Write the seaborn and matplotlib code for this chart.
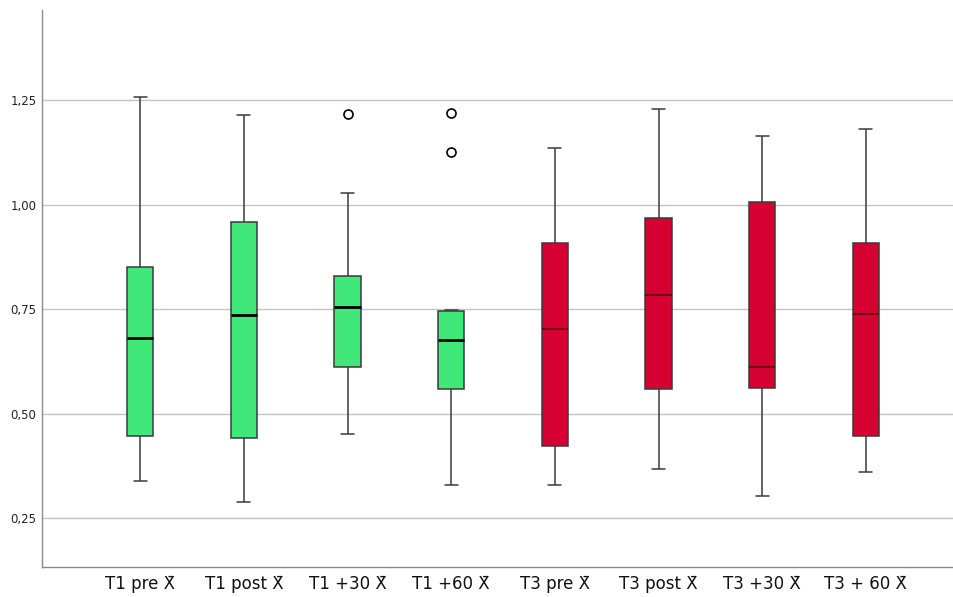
import numpy as np
import pandas as pd
import matplotlib
matplotlib.use("Agg")
import matplotlib.pyplot as plt
import seaborn as sns

# Measurement occasions (mean values, X̄)
labels = ["T1 pre X\u0304", "T1 post X\u0304", "T1 +30 X\u0304", "T1 +60 X\u0304",
          "T3 pre X\u0304", "T3 post X\u0304", "T3 +30 X\u0304", "T3 + 60 X\u0304"]

# Five-number summaries per occasion
whisker_low = [0.340, 0.290, 0.452, 0.331, 0.329, 0.367, 0.303, 0.362]
q1          = [0.446, 0.443, 0.611, 0.560, 0.423, 0.559, 0.562, 0.446]
median      = [0.682, 0.737, 0.756, 0.676, 0.703, 0.785, 0.613, 0.739]
q3          = [0.852, 0.959, 0.829, 0.745, 0.909, 0.968, 1.007, 0.909]
whisker_high = [1.257, 1.214, 1.029, 0.748, 1.135, 1.229, 1.163, 1.182]

# Outlying values
outlier_group = ["T1 +30 X\u0304", "T1 +60 X\u0304", "T1 +60 X\u0304"]
outlier_value = [1.217, 1.218, 1.125]

green = "#40E87A"
red = "#D60032"
box_colors = [green] * 4 + [red] * 4
median_colors = ["#000000"] * 4 + ["#6E0018"] * 4

rows = []
for i, lab in enumerate(labels):
    for v in (whisker_low[i], q1[i], median[i], q3[i], whisker_high[i]):
        rows.append((lab, v))
df = pd.DataFrame(rows, columns=["group", "value"])
out_df = pd.DataFrame({"group": outlier_group, "value": outlier_value})

sns.set_theme(style="white")
plt.rcParams["font.family"] = ["DejaVu Sans"]

fig = plt.figure(figsize=(9.54, 5.97), dpi=100)
ax = fig.add_axes([0.044, 0.051, 0.956, 0.932])

edge = "#3a3a3a"
sns.boxplot(data=df, x="group", y="value", hue="group", order=labels,
            hue_order=labels, palette=dict(zip(labels, box_colors)),
            saturation=1, whis=(0, 100), width=0.254, dodge=False,
            legend=False, linewidth=1.1, linecolor=edge, showfliers=False,
            medianprops=dict(linewidth=2.0, color="black"), ax=ax)

# median line colour follows the group (black on green, dark red on red)
for cont in ax.containers:
    try:
        meds = cont.medians
    except AttributeError:
        continue
    for m in meds:
        x = np.mean(m.get_xdata())
        idx = int(round(x))
        m.set_color(median_colors[idx])
        m.set_linewidth(2.0 if idx < 4 else 1.5)

sns.stripplot(data=out_df, x="group", y="value", order=labels, jitter=False,
              marker="o", size=6.5, color="white", edgecolor="black",
              linewidth=1.2, ax=ax, zorder=5)

ax.set_ylim(0.135, 1.465)
ax.set_xlim(-0.948, 7.85)
yticks = [0.25, 0.50, 0.75, 1.00, 1.25]
ax.set_yticks(yticks)
ax.set_yticklabels([f"{t:.2f}".replace(".", ",") for t in yticks],
                   fontsize=8.5, color="#222222")
ax.set_xticks(range(len(labels)))
ax.set_xticklabels(labels, fontsize=12, color="#111111")
ax.set_xlabel("")
ax.set_ylabel("")
ax.tick_params(axis="both", length=0, pad=4)
ax.tick_params(axis="x", pad=6)

ax.yaxis.grid(True, color="#c4c4c4", linewidth=1.0)
ax.xaxis.grid(False)
ax.set_axisbelow(True)

for side in ("top", "right"):
    ax.spines[side].set_visible(False)
for side in ("left", "bottom"):
    ax.spines[side].set_color("#8a8a8a")
    ax.spines[side].set_linewidth(1.0)

fig.savefig("out.png", dpi=100)
